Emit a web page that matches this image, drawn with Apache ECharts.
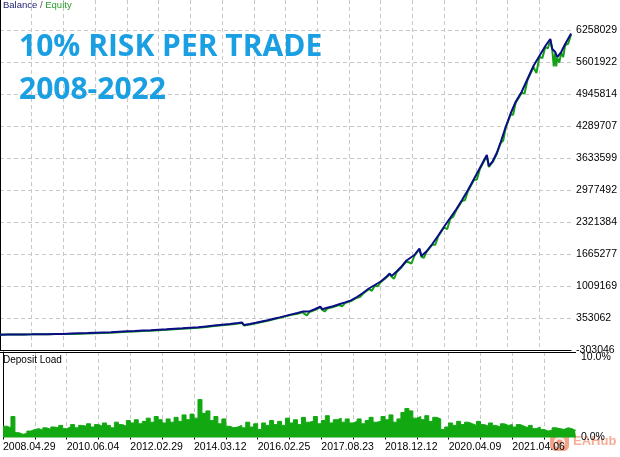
<!DOCTYPE html>
<html><head><meta charset="utf-8">
<script src="https://cdn.jsdelivr.net/npm/echarts@6/dist/echarts.min.js"></script>
<style>html,body{margin:0;padding:0;background:#fff}#c{width:620px;height:457px}</style>
</head><body><div id="c"></div>
<script>
// ---- data ----
const yTickLabels = ['-303046','353062','1009169','1665277','2321384','2977492','3633599','4289707','4945814','5601922','6258029'];
const xTickLabels = ['2008.04.29','2010.06.04','2012.02.29','2014.03.12','2016.02.25','2017.08.23','2018.12.12','2020.04.09','2021.04.06'];
const loadTickLabels = ['0.0%','10.0%'];

const dealNo = [0,40,80,120,160,200,240,280,320,360,400,440,480,520,560,600,640,680,720,760,800,840,880,920,960,1000,1040,1080,1120,1160,1200,
1220,1230,1260,1290,1320,1350,1380,1410,1440,1470,1500,
1525,1535,1560,1590,1615,1625,1650,1680,1710,1740,1770,1800,
1830,1860,1890,1920,1950,1965,1975,2000,2025,2050,2060,2090,2115,2125,2150,2180,2210,2240,2270,2300,2330,2360,2390,2420,2440,2455,2465,2485,2505,2525,2550,2575,2600,2630,2660,2690,2720,2750,2775,2785,2800,2810,2830,2850,2880];

const balance = [10000,12700,14750,16800,17500,18850,20900,22950,25000,33200,39350,43450,49600,55750,61900,72150,80350,86500,94700,102900,113150,121350,131600,141850,154150,164400,180800,197200,213600,230000,250500,
262800,209500,230000,254600,281300,307900,336600,365350,396100,426850,455550,
484250,451450,488350,537550,586750,533450,562150,594950,633900,672900,713900,783600,
865600,957900,1029650,1101400,1203900,1265400,1214150,1306450,1408950,1531950,1501200,1644750,1778000,1624250,1716500,1870250,2044550,2229050,2403350,2577600,2772400,2977450,3202950,3428500,3582250,3695050,3469500,3572000,3736050,3961600,4269100,4545900,4781700,4986750,5253250,5519800,5724850,5929850,6073400,5868350,5806850,5704350,5806850,5970850,6186150];

const equityDeal = [0,40,80,120,160,200,240,280,320,360,400,440,480,520,560,600,640,680,720,760,800,840,880,920,960,1000,1040,1080,1120,1160,1200,
1220,1230,1260,1290,1320,1350,1380,1410,1440,1470,1500,
1525,1535,1547.5,1560,1590,1615,1625,1637.5,1650,1680,1710,1725,1740,1770,1800,1815,
1830,1860,1875,1890,1905,1920,1950,1965,1975,1987.5,2000,2025,2050,2060,2075,2090,2115,2125,2137.5,2150,2180,2195,2210,2240,2255,2270,2285,2300,2330,2345,2360,2390,2405,2420,2430,2440,2455,2465,2475,2485,2505,2525,2537.5,2550,2575,2587.5,2600,2630,2645,2660,2690,2705,2720,2735,2750,2762.5,2775,2785,2792.5,2800,2805,2810,2820,2830,2840,2850,2865,2880];

const equity = [10000,12700,14750,16800,17500,18850,20900,22950,25000,23200,29350,33450,39600,45750,51900,62150,70350,76500,84700,92900,103150,111350,121600,131850,144150,154400,170800,187200,203600,220000,240500,
252800,199500,220000,244600,271300,297900,326600,355350,386100,416850,440550,
469250,436450,408400,473350,522550,571750,518450,486300,547150,579950,618900,591900,657900,698900,768600,783600,
850600,942900,911800,1014650,1004000,1086400,1188900,1250400,1199150,1157800,1291450,1393950,1516950,1486200,1470500,1629750,1763000,1609250,1588400,1701500,1855250,1854900,2029550,2214050,2172700,2383350,2429000,2557600,2752400,2772400,2957450,3182950,3192700,3408500,3443900,3562250,3675050,3449500,3438750,3552000,3716050,3941600,3992350,4249100,4525900,4520300,4761700,4966750,4956000,5233250,5499800,5376300,5704850,5683800,5909850,5878600,6053400,5848350,5509550,5786850,5509600,5684350,5591600,5786850,5704300,5950850,5976000,6166150];

const depositLoad = [
1.4,1.2,2.6,0.6,0.4,0.5,0.8,1.0,
1.1,0.9,1.2,1.0,1.3,1.2,1.5,1.1,
1.3,1.6,1.2,1.5,1.4,1.7,1.3,1.6,
1.4,1.8,1.5,1.2,1.9,1.6,1.4,2.1,
1.8,2.2,1.7,2.0,2.4,1.9,2.6,2.2,
1.8,2.3,1.9,2.5,2.0,2.8,2.2,2.9,
2.4,4.7,3.0,3.3,2.1,2.6,1.7,2.3,
1.4,1.2,1.3,1.5,1.2,1.9,1.3,1.7,
1.0,1.8,1.5,2.1,1.6,2.0,1.5,2.4,
1.8,2.2,1.6,2.5,1.9,2.0,2.6,1.7,
2.1,2.7,1.8,2.2,2.4,1.9,2.3,1.8,
2.0,2.3,1.7,2.1,2.5,1.9,2.0,2.6,
2.2,2.8,1.9,2.3,3.1,3.6,3.3,2.4,
2.6,2.2,2.7,2.0,2.5,2.3,1.0,1.3,
1.8,1.5,2.0,1.6,1.9,1.7,1.5,2.0,
1.6,1.4,1.8,1.5,1.3,1.7,1.5,1.6,
1.3,1.6,1.4,1.2,1.5,1.1,1.3,1.0,
0.8,0.9,1.2,1.1,1.0,1.2,1.1,0.9];

// ---- chart ----
const Y0 = Number(yTickLabels[0]);
const YSTEP = (Number(yTickLabels[yTickLabels.length - 1]) - Y0) / (yTickLabels.length - 1);
const toUnits = v => (v - Y0) / YSTEP;
const DEAL_MAX = 2880, DEAL_STEP = 160, LOAD_STEP = 20;

const FONT = "'Liberation Sans Narrow','Liberation Sans',sans-serif";
const dash = { type: [4, 3], color: '#c8c8c8', width: 1 };
const GREEN = '#12a812';

const loadData = [[0, depositLoad[0]]]
  .concat(depositLoad.map((v, i) => [i * LOAD_STEP + LOAD_STEP / 2, v]))
  .concat([[depositLoad.length * LOAD_STEP, depositLoad[depositLoad.length - 1]]]);

const chart = echarts.init(document.getElementById('c'), null, { renderer: 'canvas' });
chart.setOption({
  animation: false,
  backgroundColor: '#fff',
  grid: [
    { left: 0, top: 0, width: 576, height: 350 },
    { left: 0, top: 352, width: 576, height: 85.5 }
  ],
  xAxis: [
    { type: 'value', gridIndex: 0, min: 0, max: DEAL_MAX, interval: DEAL_STEP,
      axisLine: { show: true, onZero: false, lineStyle: { color: '#000', width: 1 } },
      axisTick: { show: false }, axisLabel: { show: false },
      splitLine: { show: true, lineStyle: dash, showMinLine: false, showMaxLine: false } },
    { type: 'value', gridIndex: 1, min: 0, max: DEAL_MAX, interval: DEAL_STEP,
      axisLine: { show: false },
      axisTick: { show: true, length: 2, lineStyle: { color: '#000' } },
      axisLabel: { show: true, align: 'left', margin: 4, fontSize: 10.5, color: '#000', fontFamily: FONT,
        showMaxLabel: false,
        formatter: v => (v % (DEAL_STEP * 2) === 0 ? (xTickLabels[v / (DEAL_STEP * 2)] || '') : '') },
      splitLine: { show: true, lineStyle: dash, showMinLine: false, showMaxLine: false } }
  ],
  yAxis: [
    { type: 'value', gridIndex: 0, position: 'right', min: 0, max: 350 / 32, interval: 1,
      axisLine: { show: true, lineStyle: { color: '#000', width: 1 } },
      axisTick: { show: false },
      axisLabel: { margin: 5, fontSize: 10.5, color: '#000', fontFamily: FONT,
        formatter: v => (Math.abs(v - Math.round(v)) < 1e-6 ? (yTickLabels[Math.round(v)] || '') : '') },
      splitLine: { show: true, lineStyle: dash, showMinLine: false, showMaxLine: false } },
    { type: 'value', gridIndex: 1, position: 'right', min: 0, max: 10.6, interval: 10,
      axisLine: { show: true, lineStyle: { color: '#000', width: 1 } },
      axisTick: { show: false },
      axisLabel: { margin: 5, fontSize: 10.5, color: '#000', fontFamily: FONT,
        formatter: v => (v === 0 ? loadTickLabels[0] : v === 10 ? loadTickLabels[1] : '') },
      splitLine: { show: false } }
  ],
  series: [
    { name: 'Equity', type: 'line', xAxisIndex: 0, yAxisIndex: 0, showSymbol: false, z: 2,
      lineStyle: { color: '#14a014', width: 2 }, itemStyle: { color: '#14a014' },
      data: equityDeal.map((d, i) => [d, toUnits(equity[i])]) },
    { name: 'Balance', type: 'line', xAxisIndex: 0, yAxisIndex: 0, showSymbol: false, z: 3,
      lineStyle: { color: '#0c0c86', width: 2 }, itemStyle: { color: '#0c0c86' },
      data: dealNo.map((d, i) => [d, toUnits(balance[i])]) },
    { name: 'Deposit Load', type: 'line', step: 'middle', xAxisIndex: 1, yAxisIndex: 1, showSymbol: false,
      lineStyle: { color: GREEN, width: 1 }, itemStyle: { color: GREEN },
      areaStyle: { color: GREEN, opacity: 1 },
      data: loadData }
  ],
  graphic: [
    { type: 'line', shape: { x1: 0, y1: 352.5, x2: 576, y2: 352.5 }, style: { stroke: '#000', lineWidth: 1 }, z: 10 },
    { type: 'text', left: 3, top: 0, z: 10,
      style: { text: '{a|Balance} {b|/} {c|Equity}', font: '9.5px ' + FONT,
        rich: { a: { fill: '#1c1c70', font: '9.5px ' + FONT }, b: { fill: '#555', font: '9.5px ' + FONT }, c: { fill: '#2a9a2a', font: '9.5px ' + FONT } } } },
    { type: 'text', left: 3, top: 355, z: 10,
      style: { text: 'Deposit Load', font: '10px ' + FONT, fill: '#000' } },
    { type: 'text', x: 19, y: 47, z: 10,
      style: { text: '10% RISK PER TRADE', font: "bold 30px 'Open Sans'", fill: '#1a9fe2', verticalAlign: 'middle' } },
    { type: 'text', x: 19, y: 90, z: 10,
      style: { text: '2008-2022', font: "bold 30px 'Open Sans'", fill: '#1a9fe2', verticalAlign: 'middle' } },
    { type: 'group', x: 550, y: 432, z: 20, children: [
      { type: 'rect', shape: { x: 0, y: 0, width: 19, height: 19, r: 5 }, style: { fill: 'rgba(236,104,62,0.6)' } },
      { type: 'circle', shape: { cx: 9.5, cy: 10, r: 5.5 }, style: { fill: 'rgba(255,255,255,0.8)' } },
      { type: 'circle', shape: { cx: 9.5, cy: 10.5, r: 3 }, style: { fill: 'rgba(236,104,62,0.6)' } },
      { type: 'text', x: 23, y: 9.5, style: { text: 'EAHub', font: "bold 13px 'Liberation Sans'", fill: 'rgba(238,120,80,0.6)', verticalAlign: 'middle' } }
    ] }
  ]
});
</script></body></html>
